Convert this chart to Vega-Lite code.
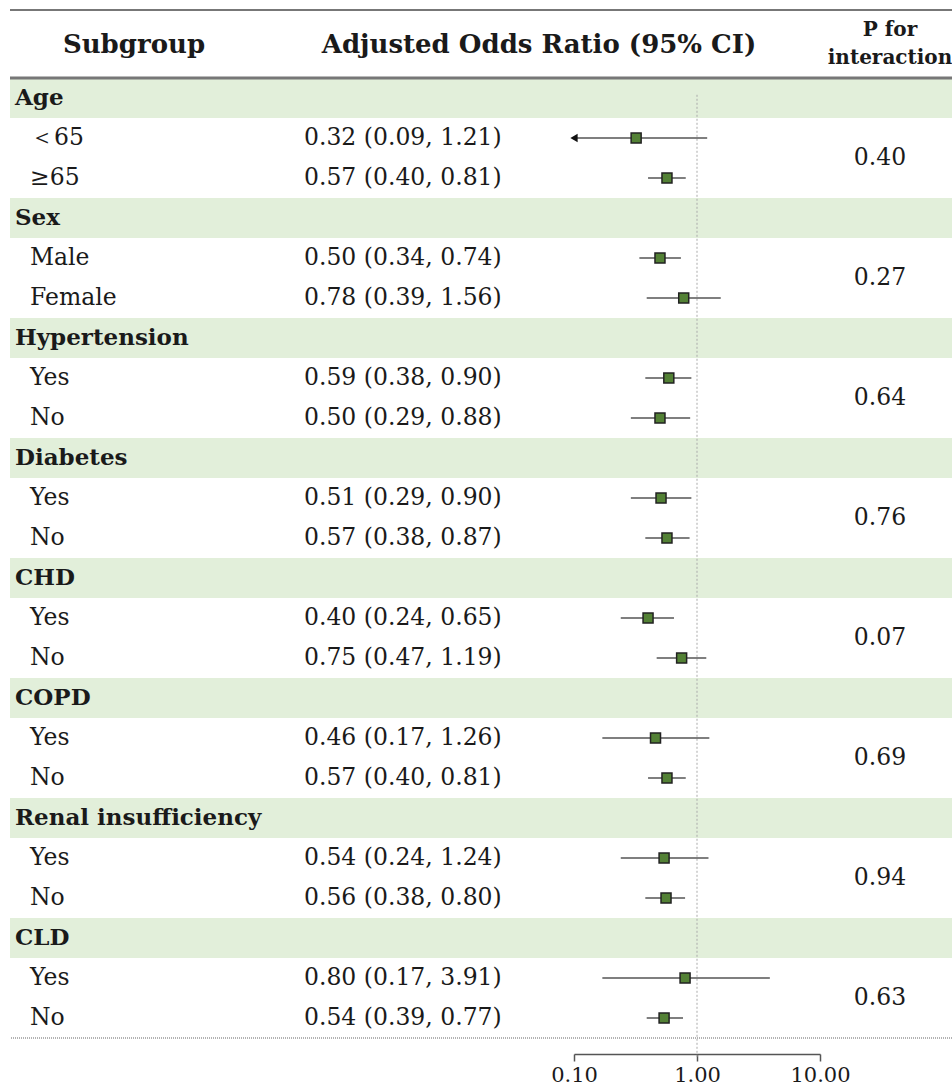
{
  "$schema": "https://vega.github.io/schema/vega-lite/v6.json",
  "padding": {"left": 8, "top": 0, "right": 0, "bottom": 0},
  "spacing": 0,
  "bounds": "flush",
  "config": {
    "view": {"stroke": null},
    "text": {"font": "DejaVu Serif", "color": "#1a1a1a"},
    "concat": {"spacing": 0}
  },
  "datasets": {
    "rows": [
      {"row": 1, "label": "Age", "kind": "group"},
      {"row": 2, "label": "＜65", "kind": "item", "est": "0.32 (0.09, 1.21)", "or": 0.32, "lo": 0.09, "hi": 1.21},
      {"row": 3, "label": "≥65", "kind": "item", "est": "0.57 (0.40, 0.81)", "or": 0.57, "lo": 0.40, "hi": 0.81, "p": "0.40"},
      {"row": 4, "label": "Sex", "kind": "group"},
      {"row": 5, "label": "Male", "kind": "item", "est": "0.50 (0.34, 0.74)", "or": 0.50, "lo": 0.34, "hi": 0.74},
      {"row": 6, "label": "Female", "kind": "item", "est": "0.78 (0.39, 1.56)", "or": 0.78, "lo": 0.39, "hi": 1.56, "p": "0.27"},
      {"row": 7, "label": "Hypertension", "kind": "group"},
      {"row": 8, "label": "Yes", "kind": "item", "est": "0.59 (0.38, 0.90)", "or": 0.59, "lo": 0.38, "hi": 0.90},
      {"row": 9, "label": "No", "kind": "item", "est": "0.50 (0.29, 0.88)", "or": 0.50, "lo": 0.29, "hi": 0.88, "p": "0.64"},
      {"row": 10, "label": "Diabetes", "kind": "group"},
      {"row": 11, "label": "Yes", "kind": "item", "est": "0.51 (0.29, 0.90)", "or": 0.51, "lo": 0.29, "hi": 0.90},
      {"row": 12, "label": "No", "kind": "item", "est": "0.57 (0.38, 0.87)", "or": 0.57, "lo": 0.38, "hi": 0.87, "p": "0.76"},
      {"row": 13, "label": "CHD", "kind": "group"},
      {"row": 14, "label": "Yes", "kind": "item", "est": "0.40 (0.24, 0.65)", "or": 0.40, "lo": 0.24, "hi": 0.65},
      {"row": 15, "label": "No", "kind": "item", "est": "0.75 (0.47, 1.19)", "or": 0.75, "lo": 0.47, "hi": 1.19, "p": "0.07"},
      {"row": 16, "label": "COPD", "kind": "group"},
      {"row": 17, "label": "Yes", "kind": "item", "est": "0.46 (0.17, 1.26)", "or": 0.46, "lo": 0.17, "hi": 1.26},
      {"row": 18, "label": "No", "kind": "item", "est": "0.57 (0.40, 0.81)", "or": 0.57, "lo": 0.40, "hi": 0.81, "p": "0.69"},
      {"row": 19, "label": "Renal insufficiency", "kind": "group"},
      {"row": 20, "label": "Yes", "kind": "item", "est": "0.54 (0.24, 1.24)", "or": 0.54, "lo": 0.24, "hi": 1.24},
      {"row": 21, "label": "No", "kind": "item", "est": "0.56 (0.38, 0.80)", "or": 0.56, "lo": 0.38, "hi": 0.80, "p": "0.94"},
      {"row": 22, "label": "CLD", "kind": "group"},
      {"row": 23, "label": "Yes", "kind": "item", "est": "0.80 (0.17, 3.91)", "or": 0.80, "lo": 0.17, "hi": 3.91},
      {"row": 24, "label": "No", "kind": "item", "est": "0.54 (0.39, 0.77)", "or": 0.54, "lo": 0.39, "hi": 0.77, "p": "0.63"}
    ]
  },
  "hconcat": [
    {
      "width": 282,
      "height": 1080,
      "layer": [
        {
          "data": {"name": "rows"},
          "transform": [{"filter": "datum.kind == 'group'"}],
          "mark": {"type": "rect", "color": "#e2efda"},
          "encoding": {
            "y": {"field": "row", "type": "ordinal", "axis": null,
                  "scale": {"domain": [-1,0,1,2,3,4,5,6,7,8,9,10,11,12,13,14,15,16,17,18,19,20,21,22,23,24,25], "range": [-2, 1078], "paddingInner": 0, "paddingOuter": 0}}
          }
        },
        {
          "data": {"values": [{}]},
          "mark": {"type": "rule", "color": "#777777", "strokeWidth": 2},
          "encoding": {"y": {"datum": -1, "type": "ordinal", "bandPosition": 0.3}}
        },
        {
          "data": {"values": [{}]},
          "mark": {"type": "rule", "color": "#777777", "strokeWidth": 3},
          "encoding": {"y": {"datum": 0, "type": "ordinal", "bandPosition": 1}}
        },
        {
          "data": {"values": [{}]},
          "mark": {"type": "rule", "color": "#999999", "strokeWidth": 1.5, "strokeDash": [1, 1]},
          "encoding": {"y": {"datum": 24, "type": "ordinal", "bandPosition": 1}}
        },
        {
          "data": {"values": [{}]},
          "mark": {"type": "text", "text": "Subgroup", "fontWeight": "bold", "fontSize": 26, "baseline": "middle", "align": "center", "dy": -13, "dx": -17},
          "encoding": {"y": {"datum": 0, "type": "ordinal"}}
        },
        {
          "data": {"name": "rows"},
          "transform": [{"filter": "datum.kind == 'group'"}],
          "mark": {"type": "text", "fontWeight": "bold", "fontSize": 23, "align": "left", "baseline": "middle", "dx": -136},
          "encoding": {
            "y": {"field": "row", "type": "ordinal"},
            "text": {"field": "label"}
          }
        },
        {
          "data": {"name": "rows"},
          "transform": [{"filter": "datum.kind == 'item'"}],
          "mark": {"type": "text", "fontSize": 23.5, "align": "left", "baseline": "middle", "dx": -121},
          "encoding": {
            "y": {"field": "row", "type": "ordinal"},
            "text": {"field": "label"}
          }
        }
      ]
    },
    {
      "width": 282,
      "height": 1080,
      "layer": [
        {
          "data": {"name": "rows"},
          "transform": [{"filter": "datum.kind == 'group'"}],
          "mark": {"type": "rect", "color": "#e2efda"},
          "encoding": {
            "y": {"field": "row", "type": "ordinal", "axis": null,
                  "scale": {"domain": [-1,0,1,2,3,4,5,6,7,8,9,10,11,12,13,14,15,16,17,18,19,20,21,22,23,24,25], "range": [-2, 1078], "paddingInner": 0, "paddingOuter": 0}}
          }
        },
        {
          "data": {"values": [{}]},
          "mark": {"type": "rule", "color": "#777777", "strokeWidth": 2},
          "encoding": {"y": {"datum": -1, "type": "ordinal", "bandPosition": 0.3}}
        },
        {
          "data": {"values": [{}]},
          "mark": {"type": "rule", "color": "#777777", "strokeWidth": 3},
          "encoding": {"y": {"datum": 0, "type": "ordinal", "bandPosition": 1}}
        },
        {
          "data": {"values": [{}]},
          "mark": {"type": "rule", "color": "#999999", "strokeWidth": 1.5, "strokeDash": [1, 1]},
          "encoding": {"y": {"datum": 24, "type": "ordinal", "bandPosition": 1}}
        },
        {
          "data": {"values": [{}]},
          "mark": {"type": "text", "text": "Adjusted Odds Ratio (95% CI)", "fontWeight": "bold", "fontSize": 26, "baseline": "middle", "align": "center", "dy": -13, "dx": 106},
          "encoding": {"y": {"datum": 0, "type": "ordinal"}}
        },
        {
          "data": {"name": "rows"},
          "transform": [{"filter": "datum.kind == 'item'"}],
          "mark": {"type": "text", "fontSize": 23.5, "align": "left", "baseline": "middle", "dx": -129},
          "encoding": {
            "y": {"field": "row", "type": "ordinal"},
            "text": {"field": "est"}
          }
        }
      ]
    },
    {
      "width": 246,
      "height": 1080,
      "layer": [
        {
          "data": {"name": "rows"},
          "transform": [{"filter": "datum.kind == 'group'"}],
          "mark": {"type": "rect", "color": "#e2efda"},
          "encoding": {
            "y": {"field": "row", "type": "ordinal", "axis": null,
                  "scale": {"domain": [-1,0,1,2,3,4,5,6,7,8,9,10,11,12,13,14,15,16,17,18,19,20,21,22,23,24,25], "range": [-2, 1078], "paddingInner": 0, "paddingOuter": 0}}
          }
        },
        {
          "data": {"values": [{}]},
          "mark": {"type": "rule", "color": "#777777", "strokeWidth": 2},
          "encoding": {"y": {"datum": -1, "type": "ordinal", "bandPosition": 0.3}}
        },
        {
          "data": {"values": [{}]},
          "mark": {"type": "rule", "color": "#777777", "strokeWidth": 3},
          "encoding": {"y": {"datum": 0, "type": "ordinal", "bandPosition": 1}}
        },
        {
          "data": {"values": [{}]},
          "mark": {"type": "rule", "color": "#999999", "strokeWidth": 1.5, "strokeDash": [1, 1]},
          "encoding": {"y": {"datum": 24, "type": "ordinal", "bandPosition": 1}}
        },
        {
          "data": {"values": [{}]},
          "mark": {"type": "rule", "color": "#aaaaaa", "strokeWidth": 1, "strokeDash": [2, 2]},
          "encoding": {
            "x": {"datum": 1, "type": "quantitative"},
            "y": {"datum": 1, "type": "ordinal", "bandPosition": 0.42},
            "y2": {"datum": 25}
          }
        },
        {
          "data": {"name": "rows"},
          "transform": [{"filter": "datum.kind == 'item'"}],
          "mark": {"type": "rule", "color": "#555555", "strokeWidth": 1.5},
          "encoding": {
            "x": {"field": "lo", "type": "quantitative"},
            "x2": {"field": "hi"},
            "y": {"field": "row", "type": "ordinal"}
          }
        },
        {
          "data": {"name": "rows"},
          "transform": [{"filter": "datum.kind == 'item' && datum.lo < 0.1"}],
          "mark": {"type": "point", "shape": "triangle-left", "filled": true, "color": "#111111", "size": 70, "opacity": 1},
          "encoding": {
            "x": {"field": "lo", "type": "quantitative"},
            "y": {"field": "row", "type": "ordinal"}
          }
        },
        {
          "data": {"name": "rows"},
          "transform": [{"filter": "datum.kind == 'item'"}],
          "mark": {"type": "point", "shape": "square", "filled": true, "fill": "#538135", "stroke": "#222222", "strokeWidth": 1.5, "size": 100, "opacity": 1},
          "encoding": {
            "x": {"field": "or", "type": "quantitative",
                  "scale": {"type": "log", "domain": [0.1, 10], "clamp": true, "nice": false},
                  "axis": {"orient": "bottom", "offset": -26, "values": [0.1, 1, 10], "format": ".2f", "grid": false, "title": null,
                           "domainColor": "#555555", "domainWidth": 1.5, "tickColor": "#555555", "tickWidth": 1.5, "tickSize": 7,
                           "labelFont": "DejaVu Serif", "labelFontSize": 21, "labelColor": "#1a1a1a", "labelPadding": 3, "labelFlush": false}},
            "y": {"field": "row", "type": "ordinal"}
          }
        }
      ]
    },
    {
      "width": 134,
      "height": 1080,
      "layer": [
        {
          "data": {"name": "rows"},
          "transform": [{"filter": "datum.kind == 'group'"}],
          "mark": {"type": "rect", "color": "#e2efda"},
          "encoding": {
            "y": {"field": "row", "type": "ordinal", "axis": null,
                  "scale": {"domain": [-1,0,1,2,3,4,5,6,7,8,9,10,11,12,13,14,15,16,17,18,19,20,21,22,23,24,25], "range": [-2, 1078], "paddingInner": 0, "paddingOuter": 0}}
          }
        },
        {
          "data": {"values": [{}]},
          "mark": {"type": "rule", "color": "#777777", "strokeWidth": 2},
          "encoding": {"y": {"datum": -1, "type": "ordinal", "bandPosition": 0.3}}
        },
        {
          "data": {"values": [{}]},
          "mark": {"type": "rule", "color": "#777777", "strokeWidth": 3},
          "encoding": {"y": {"datum": 0, "type": "ordinal", "bandPosition": 1}}
        },
        {
          "data": {"values": [{}]},
          "mark": {"type": "rule", "color": "#999999", "strokeWidth": 1.5, "strokeDash": [1, 1]},
          "encoding": {"y": {"datum": 24, "type": "ordinal", "bandPosition": 1}}
        },
        {
          "data": {"values": [{}]},
          "mark": {"type": "text", "text": ["P for", "interaction"], "lineHeight": 28, "fontWeight": "bold", "fontSize": 20, "baseline": "middle", "align": "center", "dy": -28, "dx": 3},
          "encoding": {"y": {"datum": 0, "type": "ordinal"}}
        },
        {
          "data": {"name": "rows"},
          "transform": [{"filter": "isValid(datum.p)"}],
          "mark": {"type": "text", "fontSize": 23.5, "align": "center", "baseline": "middle", "dx": -7},
          "encoding": {
            "y": {"field": "row", "type": "ordinal", "bandPosition": 0},
            "text": {"field": "p"}
          }
        }
      ]
    }
  ]
}
